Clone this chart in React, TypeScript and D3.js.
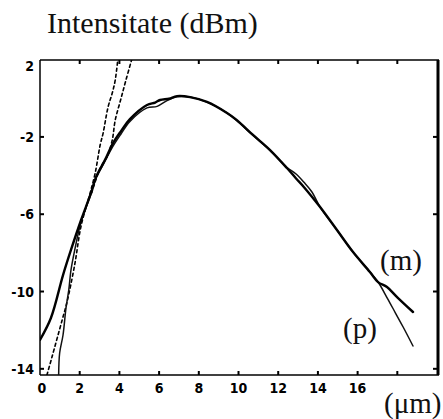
import React from "react";
import * as d3 from "d3";

// Wavelength (µm) / intensity (dBm) pairs
const seriesM: [number, number][] = [
  [0.0, -12.5], [0.55, -11.37], [1.16, -9.15], [1.56, -7.85], [2.07, -6.3],
  [2.57, -4.9], [2.82, -4.08], [3.27, -3.2], [3.68, -2.32], [4.08, -1.7],
  [4.53, -1.08], [5.39, -0.35], [5.8, -0.22], [6.05, -0.09], [6.5, -0.02],
  [6.9, 0.11], [7.56, 0.06], [8.41, -0.19], [9.42, -0.76], [9.92, -1.13],
  [10.73, -1.9], [11.59, -2.68], [12.44, -3.61], [12.9, -4.15], [13.3, -4.6],
  [14.11, -5.63], [14.96, -6.82], [15.77, -7.96], [16.62, -8.99],
  [17.03, -9.51], [17.48, -9.77], [18.0, -10.3], [18.79, -11.06],
];

const seriesP: [number, number][] = [
  [0.94, -14.32], [0.99, -13.18], [1.16, -12.25], [1.31, -10.85], [1.45, -9.92],
  [1.56, -8.89], [1.75, -7.85], [2.07, -6.4], [2.57, -4.95], [2.82, -4.15],
  [3.2, -3.4], [3.68, -2.48], [4.08, -1.85], [4.53, -1.2], [5.39, -0.5],
  [5.9, -0.42], [6.4, -0.12], [6.9, 0.08], [7.56, 0.06], [8.41, -0.2],
  [9.42, -0.76], [10.73, -1.92], [11.59, -2.7], [12.44, -3.58], [12.9, -3.92],
  [13.3, -4.35], [13.7, -4.85], [14.11, -5.63], [14.96, -6.82], [15.77, -7.96],
  [16.62, -8.99], [17.03, -9.51], [17.5, -10.35], [17.9, -11.1], [18.3, -11.85],
  [18.79, -12.82],
];

const fitA: [number, number][] = [
  [0.35, -14.32], [0.6, -13.4], [1.11, -11.5], [1.36, -10.55], [1.75, -8.6],
  [2.07, -6.6], [2.5, -5.0], [2.78, -3.87], [3.03, -2.42], [3.18, -1.8],
  [3.43, -0.45], [3.64, 0.27], [3.79, 0.94], [3.95, 2.3],
];

const fitB: [number, number][] = [
  [2.6, -4.9], [3.0, -3.7], [3.27, -3.2], [3.38, -3.04], [3.64, -2.16],
  [3.79, -1.13], [4.06, -0.09], [4.33, 0.94], [4.7, 2.3],
];

const xTickValues = [2, 4, 6, 8, 10, 12, 14, 16, 18];
const xLabelValues = [0, 2, 4, 6, 8, 10, 12, 14, 16];
const yTickValues = [-2, -6, -10, -14];
const yLabelValues = [2, -2, -6, -10, -14];

const W = 443;
const H = 419;
const left = 40;
const right = 439;
const top = 60;
const bottom = 375;

const serifFace = "Liberation Serif, DejaVu Serif, serif";
const tickFace = "DejaVu Sans Condensed, DejaVu Sans, sans-serif";

export default function App() {
  const x = d3.scaleLinear().domain([0, 20.1]).range([left, right]);
  const y = d3.scaleLinear().domain([-14.32, 1.98]).range([bottom, top]);

  const line = d3
    .line<[number, number]>()
    .x((d) => x(d[0]))
    .y((d) => y(d[1]))
    .curve(d3.curveCatmullRom.alpha(0.5));

  const tickStyle: React.CSSProperties = {
    fontFamily: tickFace,
    fontWeight: "bold",
    fontSize: "14px",
  };
  const serifStyle: React.CSSProperties = {
    fontFamily: serifFace,
    fontSize: "29px",
  };

  return (
    <svg
      width={W}
      height={H}
      style={{ position: "absolute", left: 0, top: 0, background: "#fff" }}
    >
      <defs>
        <clipPath id="plot">
          <rect x={left} y={top} width={right - left} height={bottom - top} />
        </clipPath>
      </defs>

      <text x={47} y={33} style={{ ...serifStyle, fontSize: "30px" }} fill="#111">
        Intensitate (dBm)
      </text>

      {/* frame */}
      <line x1={left} x2={right} y1={top} y2={top} stroke="#000" strokeWidth={1.5} />
      <line x1={left} x2={right} y1={bottom} y2={bottom} stroke="#000" strokeWidth={1.5} />
      <line x1={left} x2={left} y1={top} y2={bottom} stroke="#000" strokeWidth={1.5} />
      <line x1={right - 1} x2={right - 1} y1={top} y2={bottom} stroke="#000" strokeWidth={3} />

      {xTickValues.map((v) => (
        <g key={"xt" + v}>
          <line x1={x(v)} x2={x(v)} y1={bottom} y2={bottom - 4} stroke="#000" strokeWidth={2} />
          <line x1={x(v)} x2={x(v)} y1={top} y2={top + 4} stroke="#000" strokeWidth={2} />
        </g>
      ))}
      {yTickValues.map((v) => (
        <g key={"yt" + v}>
          <line x1={left} x2={left + 4} y1={y(v)} y2={y(v)} stroke="#000" strokeWidth={2} />
          <line x1={right - 2} x2={right - 6} y1={y(v)} y2={y(v)} stroke="#000" strokeWidth={2} />
        </g>
      ))}

      {xLabelValues.map((v) => (
        <text key={"xl" + v} x={x(v) + (v === 0 ? 2 : 0)} y={393} textAnchor="middle" style={tickStyle}>
          {String(v)}
        </text>
      ))}
      {yLabelValues.map((v) => (
        <text
          key={"yl" + v}
          x={34}
          y={Math.max(y(v), 66)}
          dy="0.36em"
          textAnchor="end"
          style={tickStyle}
        >
          {String(v)}
        </text>
      ))}

      <g clipPath="url(#plot)" fill="none" strokeLinejoin="round" strokeLinecap="round">
        <path d={line(fitA) ?? ""} stroke="#000" strokeWidth={1.6} strokeDasharray="3 3" />
        <path d={line(fitB) ?? ""} stroke="#000" strokeWidth={1.6} strokeDasharray="3 3" />
        <path d={line(seriesP) ?? ""} stroke="#111" strokeWidth={1.5} />
        <path d={line(seriesM) ?? ""} stroke="#000" strokeWidth={2.4} />
      </g>

      <text x={380} y={270} style={serifStyle} fill="#111">
        (m)
      </text>
      <text x={343} y={338} style={serifStyle} fill="#111">
        (p)
      </text>
      <text x={384} y={413} style={serifStyle} fill="#111">
        (μm)
      </text>
    </svg>
  );
}
